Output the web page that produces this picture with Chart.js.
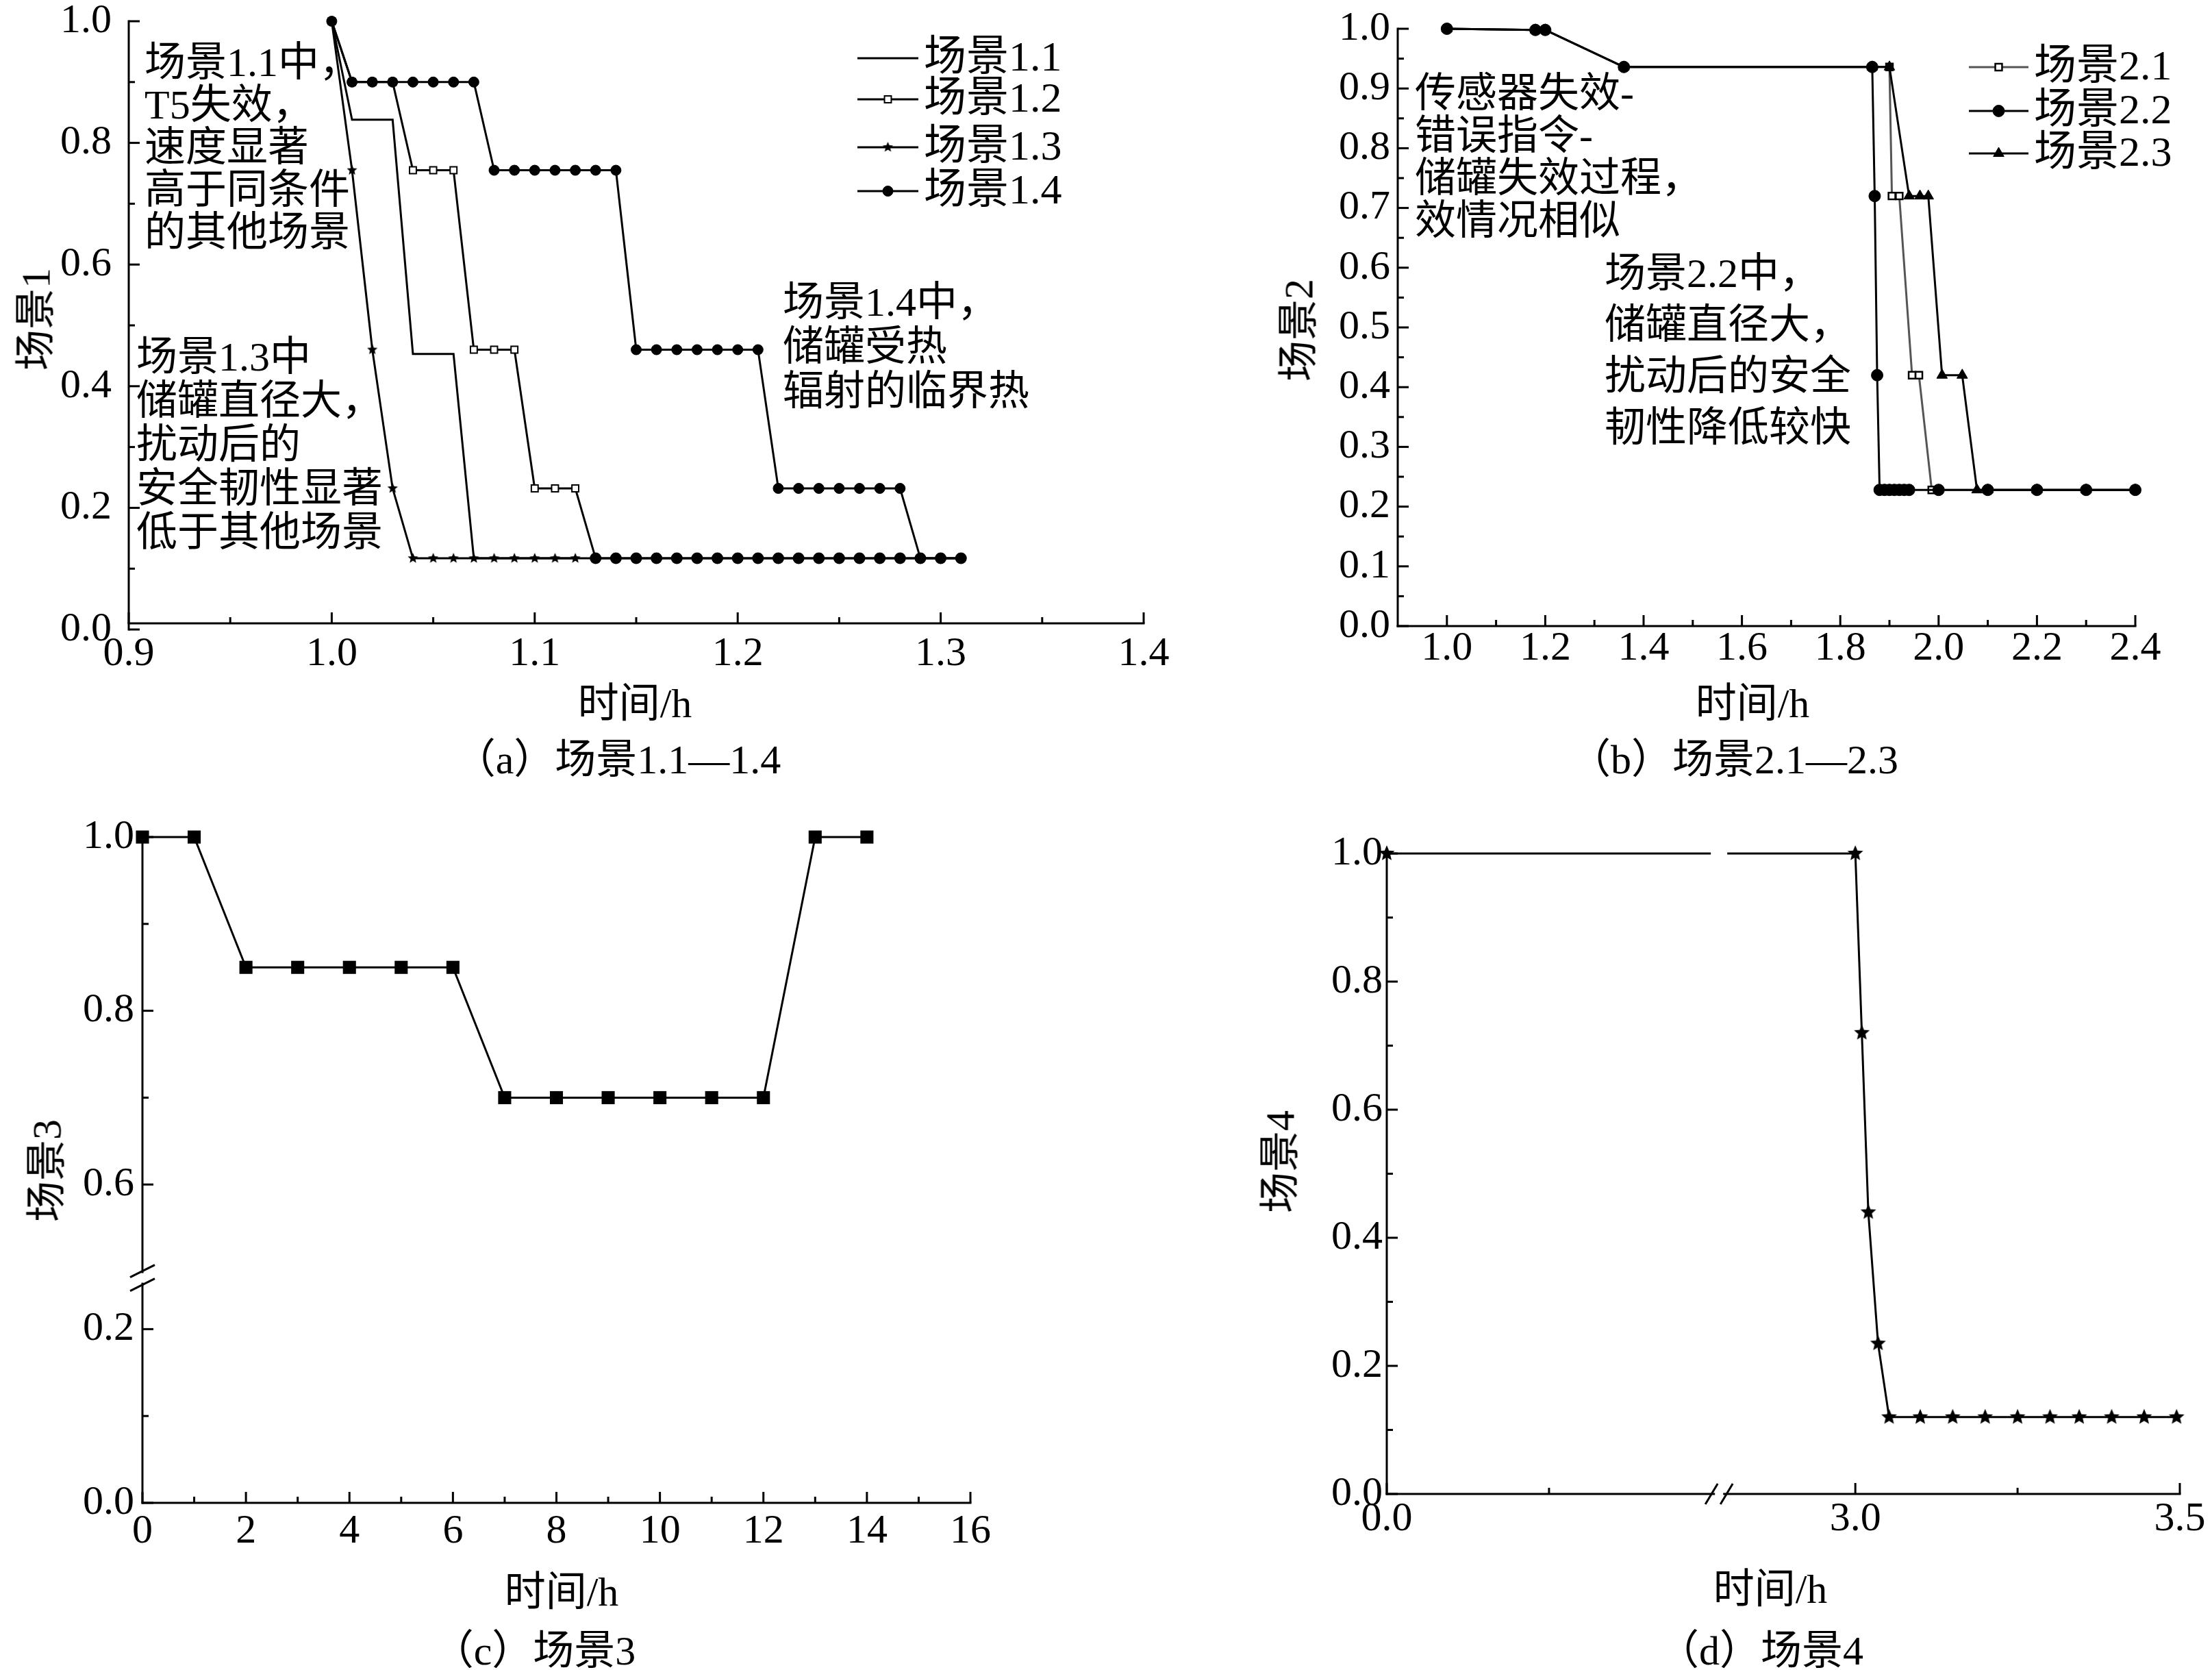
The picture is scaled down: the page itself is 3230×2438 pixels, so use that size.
<!DOCTYPE html>
<html>
<head>
<meta charset="utf-8">
<script src="https://cdn.jsdelivr.net/npm/chart.js"></script>
<style>
  html, body { margin: 0; padding: 0; background: #fff; }
  #page { position: relative; width: 3230px; height: 2438px; overflow: hidden; background: #fff; }
  canvas { position: absolute; left: 0; top: 0; }
  .t { position: absolute; font-family: "Liberation Serif", "Noto Sans CJK SC", serif; color: #000; white-space: nowrap; }
  .note { font-size: 60px; }
  .mid { transform: translate(-50%, -50%); font-size: 60px; }
  .rot { transform: translate(-50%, -50%) rotate(-90deg); font-size: 60px; }
</style>
</head>
<body>
<div id="page">
  <canvas id="ca" width="3230" height="2438"></canvas>
  <canvas id="cb" width="3230" height="2438"></canvas>
  <canvas id="cc" width="3230" height="2438"></canvas>
  <canvas id="cd" width="3230" height="2438"></canvas>

  <div class="t note" style="left:211px;top:60px;line-height:62px">场景1.1中，<br>T5失效，<br>速度显著<br>高于同条件<br>的其他场景</div>
  <div class="t note" style="left:199px;top:489px;line-height:64px">场景1.3中<br>储罐直径大，<br>扰动后的<br>安全韧性显著<br>低于其他场景</div>
  <div class="t note" style="left:1143px;top:409px;line-height:65px">场景1.4中，<br>储罐受热<br>辐射的临界热</div>
  <div class="t note" style="left:2066px;top:105px;line-height:62px">传感器失效-<br>错误指令-<br>储罐失效过程，<br>效情况相似</div>
  <div class="t note" style="left:2343px;top:362px;line-height:75px">场景2.2中，<br>储罐直径大，<br>扰动后的安全<br>韧性降低较快</div>

  <div class="t mid" style="left:927px;top:1020px">时间/h</div>
  <div class="t mid" style="left:2559px;top:1020px">时间/h</div>
  <div class="t mid" style="left:820px;top:2317px">时间/h</div>
  <div class="t mid" style="left:2585px;top:2313px">时间/h</div>

  <div class="t rot" style="left:46px;top:466px">场景1</div>
  <div class="t rot" style="left:1890px;top:482px">场景2</div>
  <div class="t rot" style="left:62px;top:1709px">场景3</div>
  <div class="t rot" style="left:1863px;top:1696px">场景4</div>

  <div class="t mid" style="left:902px;top:1102px">（a）场景1.1—1.4</div>
  <div class="t mid" style="left:2532px;top:1102px">（b）场景2.1—2.3</div>
  <div class="t mid" style="left:780px;top:2403px">（c）场景3</div>
  <div class="t mid" style="left:2571px;top:2403px">（d）场景4</div>
</div>

<script>
const W = 3230, H = 2438;
const FONT = '"Liberation Serif", "Noto Sans CJK SC", serif';

// ---- (a) 场景1.1—1.4 ----
const a11X = [1.00, 1.01, 1.03, 1.04, 1.06, 1.07, 1.31];
const a11Y = [1.0, 0.838, 0.838, 0.453, 0.453, 0.117, 0.117];
const a12X = [1.00, 1.01, 1.02, 1.03, 1.04, 1.05, 1.06, 1.07, 1.08, 1.09, 1.10, 1.11, 1.12,
  1.13, 1.14, 1.15, 1.16, 1.17, 1.18, 1.19, 1.20, 1.21, 1.22, 1.23, 1.24, 1.25, 1.26, 1.27, 1.28, 1.29, 1.30, 1.31];
const a12Y = [1.0, 0.9, 0.9, 0.9, 0.755, 0.755, 0.755, 0.46, 0.46, 0.46, 0.232, 0.232, 0.232,
  0.117, 0.117, 0.117, 0.117, 0.117, 0.117, 0.117, 0.117, 0.117, 0.117, 0.117, 0.117, 0.117, 0.117, 0.117, 0.117, 0.117, 0.117, 0.117];
const a13X = [1.00, 1.01, 1.02, 1.03, 1.04, 1.05, 1.06, 1.07, 1.08, 1.09, 1.10, 1.11, 1.12];
const a13Y = [1.0, 0.755, 0.46, 0.232, 0.117, 0.117, 0.117, 0.117, 0.117, 0.117, 0.117, 0.117, 0.117];
const a14X = [1.00, 1.01, 1.02, 1.03, 1.04, 1.05, 1.06, 1.07, 1.08, 1.09, 1.10, 1.11, 1.12, 1.13, 1.14,
  1.15, 1.16, 1.17, 1.18, 1.19, 1.20, 1.21, 1.22, 1.23, 1.24, 1.25, 1.26, 1.27, 1.28, 1.29, 1.30, 1.31];
const a14Y = [1.0, 0.9, 0.9, 0.9, 0.9, 0.9, 0.9, 0.9, 0.755, 0.755, 0.755, 0.755, 0.755, 0.755, 0.755,
  0.46, 0.46, 0.46, 0.46, 0.46, 0.46, 0.46, 0.232, 0.232, 0.232, 0.232, 0.232, 0.232, 0.232, 0.117, 0.117, 0.117];
const aXTicks = [0.9, 1.0, 1.1, 1.2, 1.3, 1.4];
const aXMinor = [0.95, 1.05, 1.15, 1.25, 1.35];
const aYTicks = [0.0, 0.2, 0.4, 0.6, 0.8, 1.0];
const aYMinor = [0.1, 0.3, 0.5, 0.7, 0.9];

// ---- (b) 场景2.1—2.3 ----
const b21X = [1.00, 1.18, 1.20, 1.36, 1.865, 1.90, 1.905, 1.92, 1.946, 1.96, 1.986, 2.00, 2.10, 2.20, 2.30, 2.40];
const b21Y = [1.0, 0.998, 0.998, 0.936, 0.936, 0.936, 0.72, 0.72, 0.42, 0.42, 0.228, 0.228, 0.228, 0.228, 0.228, 0.228];
const b22X = [1.00, 1.18, 1.20, 1.36, 1.865, 1.870, 1.875, 1.88, 1.89, 1.90, 1.91, 1.92, 1.93, 1.94, 2.00, 2.10, 2.20, 2.30, 2.40];
const b22Y = [1.0, 0.998, 0.998, 0.936, 0.936, 0.72, 0.42, 0.228, 0.228, 0.228, 0.228, 0.228, 0.228, 0.228, 0.228, 0.228, 0.228, 0.228, 0.228];
const b23X = [1.00, 1.18, 1.20, 1.36, 1.865, 1.90, 1.94, 1.962, 1.979, 2.007, 2.048, 2.078, 2.10, 2.20, 2.30, 2.40];
const b23Y = [1.0, 0.998, 0.998, 0.936, 0.936, 0.936, 0.72, 0.72, 0.72, 0.42, 0.42, 0.228, 0.228, 0.228, 0.228, 0.228];
const bXTicks = [1.0, 1.2, 1.4, 1.6, 1.8, 2.0, 2.2, 2.4];
const bXMinor = [1.1, 1.3, 1.5, 1.7, 1.9, 2.1, 2.3];
const bYTicks = [0.0, 0.1, 0.2, 0.3, 0.4, 0.5, 0.6, 0.7, 0.8, 0.9, 1.0];
const bYMinor = [0.05, 0.15, 0.25, 0.35, 0.45, 0.55, 0.65, 0.75, 0.85, 0.95];

// ---- (c) 场景3 ----
const c3X = [0, 1, 2, 3, 4, 5, 6, 7, 8, 9, 10, 11, 12, 13, 14];
const c3Y = [1.0, 1.0, 0.85, 0.85, 0.85, 0.85, 0.85, 0.7, 0.7, 0.7, 0.7, 0.7, 0.7, 1.0, 1.0];
const cXTicks = [0, 2, 4, 6, 8, 10, 12, 14, 16];
const cXMinor = [1, 3, 5, 7, 9, 11, 13, 15];
const cYTicks = [0.0, 0.2, 0.6, 0.8, 1.0];
const cYMinor = [0.1, 0.7, 0.9];

// ---- (d) 场景4 ----
const d4X = [0.0, 3.0, 3.01, 3.02, 3.035, 3.052, 3.10, 3.15, 3.20, 3.25, 3.30, 3.345, 3.395, 3.445, 3.495];
const d4Y = [1.0, 1.0, 0.72, 0.44, 0.235, 0.12, 0.12, 0.12, 0.12, 0.12, 0.12, 0.12, 0.12, 0.12, 0.12];
const dXTicks = [0.0, 3.0, 3.5];
const dXMinor = [0.25, 3.25];
const dYTicks = [0.0, 0.2, 0.4, 0.6, 0.8, 1.0];
const dYMinor = [0.1, 0.3, 0.5, 0.7, 0.9];

// broken axes: (c) y skips 0.2..0.6, (d) x skips ~0.5..2.8
const cBreakY = v => (v >= 0.4 ? v - 0.2335 : v);
const dBreakX = x => (x >= 1.5 ? x - 2.278 : x);

const pts = (xs, ys, fx = v => v, fy = v => v) => xs.map((x, i) => ({ x: fx(x), y: fy(ys[i]) }));

function starImg(R) {
  const c = document.createElement('canvas');
  const s = Math.ceil(R * 2 + 4);
  c.width = c.height = s;
  const g = c.getContext('2d');
  g.fillStyle = '#000';
  g.beginPath();
  for (let i = 0; i < 10; i++) {
    const r = i % 2 ? R * 0.45 : R;
    const a = -Math.PI / 2 + i * Math.PI / 5;
    g.lineTo(s / 2 + r * Math.cos(a), s / 2 + r * Math.sin(a));
  }
  g.closePath();
  g.fill();
  return c;
}
const starSmall = starImg(8);
const starBig = starImg(12);

function line(ctx, x1, y1, x2, y2) {
  ctx.beginPath(); ctx.moveTo(x1, y1); ctx.lineTo(x2, y2); ctx.stroke();
}

const axesPlugin = {
  id: 'axes',
  beforeDatasetsDraw(chart, args, o) {
    const { left, right, top, bottom } = chart.chartArea;
    const xs = chart.scales.x, ys = chart.scales.y;
    const ctx = chart.ctx;
    const ay = bottom - (o.xOffset || 0);
    ctx.save();
    ctx.strokeStyle = '#000';
    ctx.lineWidth = 3;
    line(ctx, left, top - 1.5, left, bottom + 1.5);
    line(ctx, left - 1.5, ay, right + 1.5, ay);
    o.yTicks.forEach(v => { const p = ys.getPixelForValue(v); line(ctx, left, p, left + 16, p); });
    o.yMinor.forEach(v => { const p = ys.getPixelForValue(v); line(ctx, left, p, left + 9, p); });
    o.xTicks.forEach(v => { const p = xs.getPixelForValue(v); line(ctx, p, ay, p, ay - 16); });
    o.xMinor.forEach(v => { const p = xs.getPixelForValue(v); line(ctx, p, ay, p, ay - 9); });
    ctx.restore();
  },
  afterDatasetsDraw(chart, args, o) {
    const { left, bottom } = chart.chartArea;
    const xs = chart.scales.x, ys = chart.scales.y;
    const ctx = chart.ctx;
    ctx.save();
    ctx.strokeStyle = '#000';
    ctx.lineWidth = 3;
    if (o.yBreak !== undefined) {
      const yb = ys.getPixelForValue(o.yBreak);
      ctx.fillStyle = '#fff';
      ctx.fillRect(left - 4, yb - 7, 8, 14);
      line(ctx, left - 18, yb - 1, left + 18, yb - 19);
      line(ctx, left - 18, yb + 19, left + 18, yb + 1);
    }
    if (o.xBreak !== undefined) {
      const xb = xs.getPixelForValue(o.xBreak);
      const ly = ys.getPixelForValue(1.0);
      ctx.fillStyle = '#fff';
      ctx.fillRect(xb - 12, ly - 6, 24, 12);
      ctx.fillRect(xb - 6, bottom - 4, 12, 8);
      line(ctx, xb - 20, bottom + 15, xb - 2, bottom - 15);
      line(ctx, xb + 2, bottom + 15, xb + 20, bottom - 15);
    }
    ctx.restore();
  },
  afterDraw(chart, args, o) {
    if (!o.legend) return;
    const ctx = chart.ctx;
    ctx.save();
    o.legend.forEach(it => {
      ctx.strokeStyle = it.color;
      ctx.lineWidth = 3;
      line(ctx, it.x1, it.y, it.x2, it.y);
      if (it.pointStyle) {
        ctx.fillStyle = it.fill;
        ctx.strokeStyle = '#000';
        ctx.lineWidth = it.borderWidth;
        Chart.helpers.drawPoint(ctx, { pointStyle: it.pointStyle, radius: it.radius, borderWidth: it.borderWidth, rotation: 0 }, (it.x1 + it.x2) / 2, it.y);
      }
      ctx.fillStyle = '#000';
      ctx.font = '62px ' + FONT;
      ctx.textBaseline = 'middle';
      ctx.fillText(it.text, it.x2 + 8, it.y + 2);
    });
    ctx.restore();
  }
};

function scaleOpts(min, max, ticks, labelFn, padding, isX) {
  return {
    type: 'linear',
    min, max,
    grid: { display: false, drawTicks: false },
    border: { display: false },
    ticks: {
      color: '#000',
      font: { family: FONT, size: 60, lineHeight: 1 },
      padding,
      autoSkip: false,
      maxRotation: 0,
      callback: (v, i) => labelFn(i)
    },
    afterBuildTicks: s => { s.ticks = ticks.map(v => ({ value: v })); },
    afterFit: s => {
      if (isX) s.height = 100; else s.width = 150;
      s.paddingLeft = s.paddingRight = s.paddingTop = s.paddingBottom = 0;
    }
  };
}

function makeChart(id, rect, datasets, xs, ys, axes) {
  return new Chart(document.getElementById(id), {
    type: 'line',
    data: { datasets },
    options: {
      responsive: false,
      animation: false,
      devicePixelRatio: 1,
      layout: { padding: { left: rect.l - 150, right: W - rect.r, top: rect.t, bottom: H - rect.b - 100 } },
      scales: { x: xs, y: ys },
      plugins: { legend: { display: false }, tooltip: { enabled: false }, axes }
    },
    plugins: [axesPlugin]
  });
}

const base = { showLine: true, tension: 0, borderColor: '#000', borderWidth: 3, clip: false, pointBorderColor: '#000' };
const f1 = v => v.toFixed(1);

// (a)
makeChart('ca', { l: 188, r: 1670, t: 31, b: 919 }, [
  { ...base, label: '场景1.1', data: pts(a11X, a11Y), pointRadius: 0, order: 4 },
  { ...base, label: '场景1.2', data: pts(a12X, a12Y), order: 3,
    pointStyle: c => (c.raw && c.raw.x > 1.125 ? 'circle' : 'rect'),
    pointRadius: c => (c.raw && c.raw.x > 1.125 ? 7.5 : 7),
    pointBackgroundColor: c => (c.raw && c.raw.x > 1.125 ? '#000' : '#fff'),
    pointBorderWidth: 2 },
  { ...base, label: '场景1.3', data: pts(a13X, a13Y), pointStyle: starSmall, order: 2 },
  { ...base, label: '场景1.4', data: pts(a14X, a14Y), pointStyle: 'circle', pointRadius: 7.5,
    pointBackgroundColor: '#000', pointBorderWidth: 1, order: 1 }
],
  scaleOpts(0.9, 1.4, aXTicks, i => f1(aXTicks[i]), 6, true),
  scaleOpts(0, 1, aYTicks, i => f1(aYTicks[i]), 25, false),
  { xTicks: aXTicks, xMinor: aXMinor, yTicks: aYTicks, yMinor: aYMinor, xOffset: 9,
    legend: [
      { x1: 1252, x2: 1341, y: 85, color: '#000', text: '场景1.1' },
      { x1: 1252, x2: 1341, y: 145, color: '#000', text: '场景1.2', pointStyle: 'rect', radius: 7, fill: '#fff', borderWidth: 2 },
      { x1: 1252, x2: 1341, y: 215, color: '#000', text: '场景1.3', pointStyle: starSmall, radius: 8, fill: '#000', borderWidth: 0 },
      { x1: 1252, x2: 1341, y: 279, color: '#000', text: '场景1.4', pointStyle: 'circle', radius: 7.5, fill: '#000', borderWidth: 1 }
    ] });

// (b)
makeChart('cb', { l: 2041, r: 3118, t: 42, b: 914 }, [
  { ...base, label: '场景2.1', data: pts(b21X, b21Y), borderColor: '#555', pointStyle: 'rect', pointRadius: 7,
    pointBackgroundColor: '#fff', pointBorderWidth: 2.5, order: 3 },
  { ...base, label: '场景2.2', data: pts(b22X, b22Y), pointStyle: 'circle', pointRadius: 8.5,
    pointBackgroundColor: '#000', pointBorderWidth: 1, order: 1 },
  { ...base, label: '场景2.3', data: pts(b23X, b23Y), pointStyle: 'triangle', pointRadius: 9,
    pointBackgroundColor: '#000', pointBorderWidth: 1, order: 2 }
],
  scaleOpts(0.9, 2.4, bXTicks, i => f1(bXTicks[i]), 3, true),
  scaleOpts(0, 1, bYTicks, i => f1(bYTicks[i]), 11, false),
  { xTicks: bXTicks, xMinor: bXMinor, yTicks: bYTicks, yMinor: bYMinor,
    legend: [
      { x1: 2875, x2: 2962, y: 98, color: '#555', text: '场景2.1', pointStyle: 'rect', radius: 7, fill: '#fff', borderWidth: 2.5 },
      { x1: 2875, x2: 2962, y: 162, color: '#000', text: '场景2.2', pointStyle: 'circle', radius: 8.5, fill: '#000', borderWidth: 1 },
      { x1: 2875, x2: 2962, y: 224, color: '#000', text: '场景2.3', pointStyle: 'triangle', radius: 9, fill: '#000', borderWidth: 1 }
    ] });

// (c)
const cYMapped = cYTicks.map(cBreakY);
makeChart('cc', { l: 208, r: 1417, t: 1222, b: 2194 }, [
  { ...base, label: '场景3', data: pts(c3X, c3Y, v => v, cBreakY), pointStyle: 'rect', pointRadius: 13.5,
    pointBackgroundColor: '#000', pointBorderWidth: 0 }
],
  scaleOpts(0, 16, cXTicks, i => String(cXTicks[i]), 12, true),
  scaleOpts(0, cBreakY(1.0), cYMapped, i => f1(cYTicks[i]), 12, false),
  { xTicks: cXTicks, xMinor: cXMinor, yTicks: cYMapped, yMinor: cYMinor.map(cBreakY), yBreak: 0.259 });

// (d)
const dXMapped = dXTicks.map(dBreakX);
makeChart('cd', { l: 2025, r: 3183, t: 1246, b: 2181 }, [
  { ...base, label: '场景4', data: pts(d4X, d4Y, dBreakX), pointStyle: starBig }
],
  scaleOpts(0, dBreakX(3.5), dXMapped, i => f1(dXTicks[i]), 7, true),
  scaleOpts(0, 1, dYTicks, i => f1(dYTicks[i]), 6, false),
  { xTicks: dXMapped, xMinor: dXMinor.map(dBreakX), yTicks: dYTicks, yMinor: dYMinor, xBreak: 0.512 });
</script>
</body>
</html>
